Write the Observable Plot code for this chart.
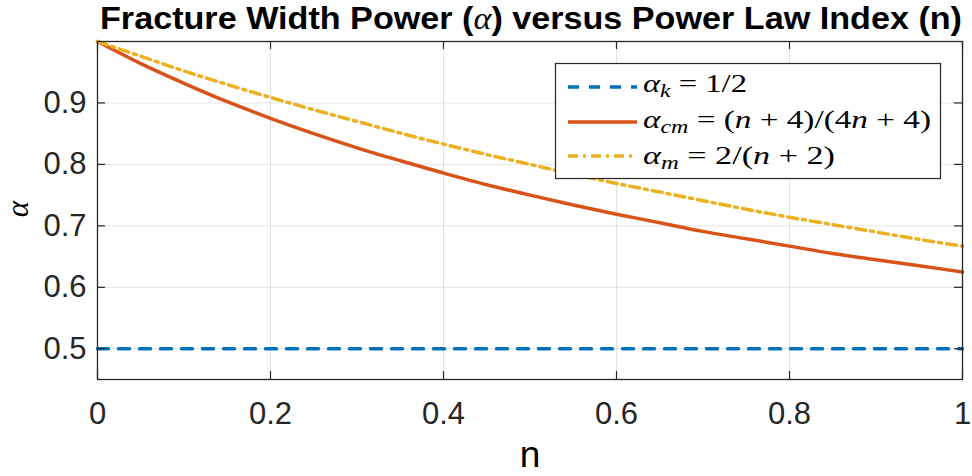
<!DOCTYPE html>
<html>
<head>
<meta charset="utf-8">
<script src="https://cdn.jsdelivr.net/npm/d3@7"></script>
<script src="https://cdn.jsdelivr.net/npm/@observablehq/plot@0.6"></script>
<style>
  html, body { margin: 0; padding: 0; background: #fff; }
  #wrap { position: relative; width: 972px; height: 476px; overflow: hidden; }
  #wrap > svg { position: absolute; left: 0; top: 0; }
  .sans { font-family: "Liberation Sans", Arial, Helvetica, sans-serif; fill: #000; }
  .math { font-family: "Liberation Serif", "DejaVu Serif", serif; fill: #000; }
</style>
</head>
<body>
<div id="wrap"></div>
<script>
// Power law index n and the three fracture-width exponents
const nValues = [0, 0.05, 0.1, 0.15, 0.2, 0.25, 0.3, 0.35, 0.4, 0.45, 0.5,
                 0.55, 0.6, 0.65, 0.7, 0.75, 0.8, 0.85, 0.9, 0.95, 1];
const alphaK  = [0.5, 0.5, 0.5, 0.5, 0.5, 0.5, 0.5, 0.5, 0.5, 0.5, 0.5,
                 0.5, 0.5, 0.5, 0.5, 0.5, 0.5, 0.5, 0.5, 0.5, 0.5];
const alphaCm = [1.000, 0.964, 0.932, 0.902, 0.875, 0.850, 0.827, 0.806, 0.786, 0.767, 0.750,
                 0.734, 0.719, 0.705, 0.691, 0.679, 0.667, 0.655, 0.645, 0.635, 0.625];
const alphaM  = [1.000, 0.976, 0.952, 0.930, 0.909, 0.889, 0.870, 0.851, 0.833, 0.816, 0.800,
                 0.784, 0.769, 0.755, 0.741, 0.727, 0.714, 0.702, 0.690, 0.678, 0.667];

const xTicks = [0, 0.2, 0.4, 0.6, 0.8, 1];
const yTicks = [0.5, 0.6, 0.7, 0.8, 0.9];
const xTickLabels = ["0", "0.2", "0.4", "0.6", "0.8", "1"];
const yTickLabels = ["0.5", "0.6", "0.7", "0.8", "0.9"];

const seriesNames = ["alpha_k", "alpha_cm", "alpha_m"];
const seriesColors = ["#0072BD", "#D95319", "#EDB120"];
const seriesDash = ["11,10", null, "10,5,3,5"];

const W = 972, H = 476;
const M = {top: 41, right: 10, bottom: 97, left: 97};
const plotW = W - M.left - M.right, plotH = H - M.top - M.bottom;
const ink = "#262626";

const rows = (ys) => nValues.map((n, i) => ({n, a: ys[i]}));

const chart = Plot.plot({
  width: W, height: H,
  marginTop: M.top, marginRight: M.right, marginBottom: M.bottom, marginLeft: M.left,
  style: {fontFamily: "'Liberation Sans', Arial, sans-serif", background: "transparent", color: ink},
  x: {domain: [0, 1]},
  y: {domain: [0.45, 1]},
  marks: [
    Plot.gridX(xTicks, {stroke: "#000", strokeOpacity: 0.11, strokeWidth: 1}),
    Plot.gridY(yTicks, {stroke: "#000", strokeOpacity: 0.11, strokeWidth: 1}),
    Plot.line(rows(alphaK),  {x: "n", y: "a", stroke: seriesColors[0], strokeWidth: 3.5, strokeDasharray: seriesDash[0]}),
    Plot.line(rows(alphaCm), {x: "n", y: "a", stroke: seriesColors[1], strokeWidth: 3.5, curve: "monotone-x"}),
    Plot.line(rows(alphaM),  {x: "n", y: "a", stroke: seriesColors[2], strokeWidth: 3.5, strokeDasharray: seriesDash[2], curve: "monotone-x"}),
    Plot.frame({stroke: ink, strokeWidth: 1.3}),
    // inward tick marks on all four sides
    Plot.tickX(xTicks, {x: d => d, stroke: ink, strokeWidth: 1.2, insetTop: plotH - 8}),
    Plot.tickX(xTicks, {x: d => d, stroke: ink, strokeWidth: 1.2, insetBottom: plotH - 8}),
    Plot.tickY(yTicks, {y: d => d, stroke: ink, strokeWidth: 1.2, insetRight: plotW - 8}),
    Plot.tickY(yTicks, {y: d => d, stroke: ink, strokeWidth: 1.2, insetLeft: plotW - 8}),
    Plot.axisX(xTicks, {tickSize: 0, tickPadding: 22, fontSize: 31, fill: ink, label: null,
                        tickFormat: (d, i) => xTickLabels[i]}),
    Plot.axisY(yTicks, {tickSize: 0, tickPadding: 11, fontSize: 31, fill: ink, label: null,
                        tickFormat: (d, i) => yTickLabels[i]})
  ]
});
document.getElementById("wrap").appendChild(chart);

// Title, axis labels and legend
const ns = "http://www.w3.org/2000/svg";
const over = d3.select("#wrap").append("svg")
  .attr("xmlns", ns).attr("width", W).attr("height", H);

const title = over.append("text").attr("class", "sans")
  .attr("x", 531).attr("y", 29).attr("text-anchor", "middle")
  .attr("font-size", 31).attr("font-weight", "bold")
  .attr("textLength", 862).attr("lengthAdjust", "spacingAndGlyphs");
title.append("tspan").text("Fracture Width Power (");
title.append("tspan").attr("class", "math").attr("font-style", "italic").attr("font-weight", "normal").text("α");
title.append("tspan").text(") versus Power Law Index (n)");

over.append("text").attr("class", "sans")
  .attr("x", 530).attr("y", 467).attr("text-anchor", "middle")
  .attr("font-size", 37).attr("fill", ink).text("n");

over.append("text").attr("class", "math")
  .attr("transform", "translate(28,209) rotate(-90)")
  .attr("text-anchor", "middle").attr("font-size", 31).attr("font-style", "italic")
  .attr("fill", ink).text("α");

// legend box
over.append("rect").attr("x", 555.5).attr("y", 63.5).attr("width", 385).attr("height", 115)
  .attr("fill", "#fff").attr("stroke", ink).attr("stroke-width", 1.2);

const legendRows = [
  {sub: "k",  rest: [["", " = 1/2"]], len: 104},
  {sub: "cm", rest: [["", " = (", ""], ["i", "n"], ["", " + 4)/(4"], ["i", "n"], ["", " + 4)"]], len: 288},
  {sub: "m",  rest: [["", " = 2/("], ["i", "n"], ["", " + 2)"]], len: 192}
];
const sampleY = [87, 122, 156];
const baseY = [92, 128, 164];
legendRows.forEach((r, i) => {
  over.append("line").attr("x1", 568).attr("x2", 637)
    .attr("y1", sampleY[i]).attr("y2", sampleY[i])
    .attr("stroke", seriesColors[i]).attr("stroke-width", 3.5)
    .attr("stroke-dasharray", seriesDash[i]);
  const t = over.append("text").attr("class", "math")
    .attr("x", 643).attr("y", baseY[i]).attr("font-size", 25)
    .attr("textLength", r.len).attr("lengthAdjust", "spacingAndGlyphs");
  t.append("tspan").attr("font-style", "italic").text("α");
  t.append("tspan").attr("font-style", "italic").attr("font-size", 18).attr("dy", 5).text(r.sub);
  r.rest.forEach((p, j) => {
    const s = t.append("tspan").text(p[1]);
    if (j === 0) s.attr("dy", -5);
    if (p[0] === "i") s.attr("font-style", "italic");
  });
});
</script>
</body>
</html>
